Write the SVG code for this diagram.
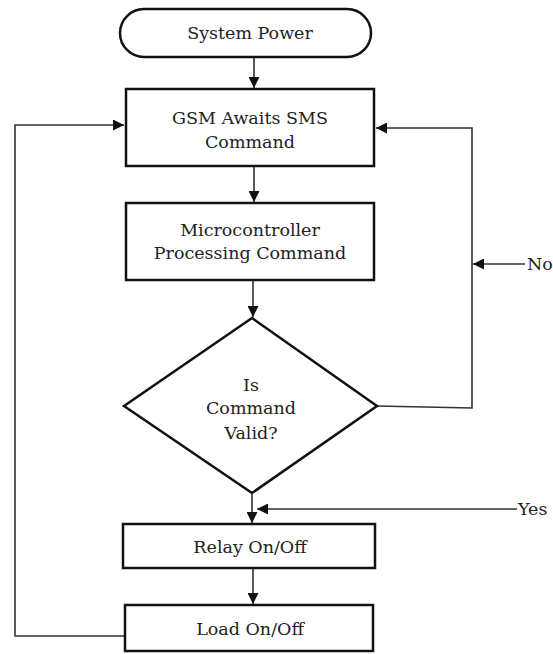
<svg xmlns="http://www.w3.org/2000/svg" width="553" height="654" viewBox="0 0 553 654">
<defs>
<marker id="ah" viewBox="0 0 10 10" refX="10" refY="5" markerWidth="11" markerHeight="11" markerUnits="userSpaceOnUse" orient="auto">
<path d="M0,0 L10,5 L0,10 z" fill="#111"/>
</marker>
<style>
.shape{fill:#fff;stroke:#111;stroke-width:2.5}
.conn{fill:none;stroke:#333;stroke-width:1.6}
.arr{marker-end:url(#ah)}
text{font-family:"DejaVu Serif","Liberation Serif",serif;font-size:17.5px;fill:#222;text-anchor:middle}
.lbl{text-anchor:start}
</style>
</defs>
<rect width="553" height="654" fill="#fff"/>
<g id="connectors">
<line class="conn arr" x1="254" y1="57" x2="254" y2="88"/>
<line class="conn arr" x1="254" y1="166" x2="254" y2="202"/>
<line class="conn arr" x1="253" y1="280" x2="253" y2="317"/>
<line class="conn arr" x1="252" y1="493" x2="252" y2="523"/>
<line class="conn arr" x1="253" y1="568" x2="253" y2="604"/>
<polyline class="conn arr" points="125,636 15,636 15,125 124,125"/>
<polyline class="conn arr" points="377,406 472,408 472,128 376,128"/>
<line class="conn arr" x1="525" y1="264" x2="473" y2="264"/>
<line class="conn arr" x1="517" y1="509" x2="257" y2="509"/>
</g>
<g id="start">
<rect class="shape" x="120" y="9" width="251" height="48" rx="24" ry="24"/>
<text x="250" y="39">System Power</text>
</g>
<g id="gsm">
<rect class="shape" x="126" y="89" width="248" height="77"/>
<text x="250" y="124">GSM Awaits SMS</text>
<text x="250" y="148">Command</text>
</g>
<g id="micro">
<rect class="shape" x="126" y="203" width="248" height="77"/>
<text x="250" y="236">Microcontroller</text>
<text x="250" y="259">Processing Command</text>
</g>
<g id="valid">
<polygon class="shape" points="252,318 377,406 252,493 124,406"/>
<text x="251" y="391">Is</text>
<text x="251" y="414">Command</text>
<text x="251" y="439">Valid?</text>
</g>
<g id="relay">
<rect class="shape" x="123" y="524" width="252" height="44"/>
<text x="250" y="553">Relay On/Off</text>
</g>
<g id="load">
<rect class="shape" x="125" y="605" width="248" height="46"/>
<text x="250" y="635">Load On/Off</text>
</g>
<g id="labels">
<text class="lbl" x="527" y="270">No</text>
<text class="lbl" x="518" y="515">Yes</text>
</g>
</svg>
